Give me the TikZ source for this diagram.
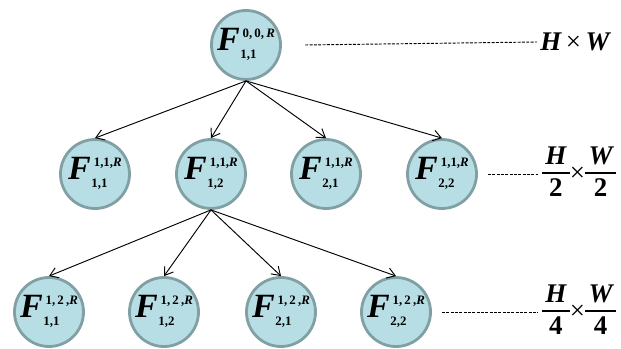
\documentclass[tikz,border=0pt]{standalone}
\usepackage{fontspec}
\setmainfont{Liberation Serif}
\usepackage{tikz}
\usetikzlibrary{arrows.meta}
\definecolor{mapfill}{RGB}{183,222,228}
\definecolor{mapedge}{RGB}{128,160,164}
\setlength{\arrayrulewidth}{1.3pt}
% feature map symbol: big F with level index on top and cell index below
\newcommand{\fmap}[2]{%
  {\fontsize{29}{29}\selectfont\bfseries\itshape F}\kern0.5pt
  \raisebox{-7pt}{\fontsize{11}{13}\selectfont\bfseries
    \begin{tabular}[b]{@{}l@{}}\hspace{2pt}#1\\[5pt]#2\end{tabular}}}
% stacked fraction for the size labels
\newcommand{\ovr}[2]{%
  \begin{tabular}[c]{@{\hspace{3pt}}c@{\hspace{3pt}}}#1\\[-1pt]\hline\noalign{\vskip1pt}{\upshape #2}\end{tabular}}
\tikzset{
  fmapnode/.style={circle, draw=mapedge, line width=2.4pt, fill=mapfill, minimum size=2.07cm, inner sep=0pt},
  split/.style={-{Straight Barb[length=2.4mm,width=3.2mm]}, line width=0.8pt},
  level/.style={dash pattern=on 2.5pt off 1.2pt, line width=0.8pt},
  scalelbl/.style={font=\fontsize{23}{26}\selectfont\bfseries\itshape, inner sep=0pt}
}
\begin{document}
\begin{tikzpicture}[x=0.03cm, y=-0.03cm]
  \useasboundingbox (0,0) rectangle (621,349);

  % level 0
  \node[fmapnode] (f0) at (246,45) {\fmap{0,\,0,\,\textit{R}}{1,1}};

  % level 1
  \node[fmapnode] (f11) at (95,174) {\fmap{1,1,\textit{R}}{1,1}};
  \node[fmapnode] (f12) at (211,174) {\fmap{1,1,\textit{R}}{1,2}};
  \node[fmapnode] (f21) at (326,174) {\fmap{1,1,\textit{R}}{2,1}};
  \node[fmapnode] (f22) at (442,174) {\fmap{1,1,\textit{R}}{2,2}};
  \foreach \n in {f11,f12,f21,f22}
    {\draw[split] (f0.south) -- (\n.north);}

  % level 2, split of f12
  \node[fmapnode] (g11) at (49,312) {\fmap{1,\,2\,,\textit{R}}{1,1}};
  \node[fmapnode] (g12) at (164,312) {\fmap{1,\,2\,,\textit{R}}{1,2}};
  \node[fmapnode] (g21) at (281,312) {\fmap{1,\,2\,,\textit{R}}{2,1}};
  \node[fmapnode] (g22) at (396,312) {\fmap{1,\,2\,,\textit{R}}{2,2}};
  \foreach \n in {g11,g12,g21,g22}
    {\draw[split] (f12.south) -- (\n.north);}

  % resolution of each level
  \node[scalelbl] (s0) at (575,42) {H\,{\upshape\mdseries ×}\,W};
  \node[scalelbl] (s1) at (579,174) {\ovr{H}{2}{\upshape\mdseries ×}\ovr{W}{2}};
  \node[scalelbl] (s2) at (579,312) {\ovr{H}{4}{\upshape\mdseries ×}\ovr{W}{4}};
  \draw[level] ([xshift=7mm]f0.east) -- ([xshift=-1mm]s0.west);
  \draw[level] ([xshift=3mm]f22.east) -- ([xshift=-1mm]s1.west);
  \draw[level] ([xshift=3mm]g22.east) -- ([xshift=-1mm]s2.west);
\end{tikzpicture}
\end{document}
